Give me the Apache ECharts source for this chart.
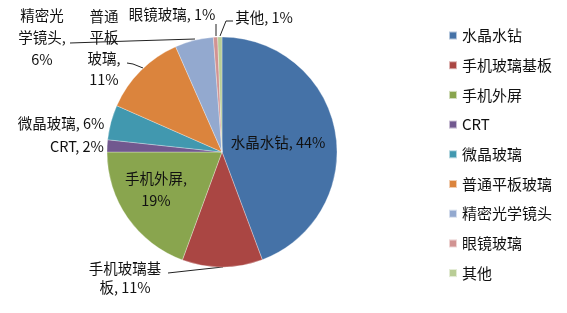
<!DOCTYPE html>
<html><head><meta charset="utf-8">
<script src="https://cdn.jsdelivr.net/npm/echarts@6/dist/echarts.min.js"></script>
<style>html,body{margin:0;padding:0;background:#fff}#c{width:567px;height:313px}</style>
</head><body><div id="c"></div>
<script>
const categories = ['水晶水钻','手机玻璃基板','手机外屏','CRT','微晶玻璃','普通平板玻璃','精密光学镜头','眼镜玻璃','其他'];
// slice shares estimated from the drawn angles
const shares = [44.3, 11.3, 19.4, 1.7, 4.9, 11.8, 5.4, 0.6, 0.6];
// percentages printed on the labels
const percentLabels = [44, 11, 19, 2, 6, 11, 6, 1, 1];
const labelTexts = ['水晶水钻, 44%','手机玻璃基\n板, 11%','手机外屏,\n19%','CRT, 2%','微晶玻璃, 6%','普通\n平板\n玻璃,\n11%','精密光\n学镜头,\n6%','眼镜玻璃, 1%','其他, 1%'];
const colors = ['#4572A7','#AA4643','#89A54E','#71588F','#4198AF','#DB843D','#93A9CF','#D19392','#B9CD96'];

const labelPlace = [
  {x:278, y:142},
  {x:125, y:278, lh:19, line:[[168,273],[195,270],[223,267]]},
  {x:156, y:189},
  {x:77, y:146},
  {x:61, y:123},
  {x:104, y:48, lh:21, line:[[127,63],[133,64],[143,68]]},
  {x:42, y:37, lh:22, line:[[70,43],[130,41],[195,39]]},
  {x:172, y:14, line:[[216,24],[216,30],[216,36]]},
  {x:264, y:17, line:[[233,21],[226,21],[220,36]]}
];

const chart = echarts.init(document.getElementById('c'), null, {renderer:'canvas'});
const data = categories.map((n,i)=>({
  name:n, value:shares[i],
  itemStyle:{color:colors[i]},
  label:{formatter:labelTexts[i], lineHeight: labelPlace[i].lh || 22},
  labelLine:{show: !!labelPlace[i].line}
}));
chart.setOption({
  animation:false,
  legend:{
    orient:'vertical', left:443, top:23,
    itemWidth:8, itemHeight:8, itemGap:14.7, icon:'rect',
    textStyle:{fontSize:15, color:'#111', fontFamily:'Noto Sans CJK SC', lineHeight:14},
    data:categories
  },
  series:[{
    type:'pie', center:[222,152], radius:115, startAngle:90, clockwise:true,
    avoidLabelOverlap:false,
    itemStyle:{borderColor:'rgba(255,255,255,0.6)', borderWidth:0.5},
    label:{show:true, position:'outside', color:'#111', fontSize:14.5, fontFamily:'Noto Sans CJK SC', align:'center'},
    labelLine:{lineStyle:{color:'#222', width:1}},
    labelLayout:function(p){
      const L = labelPlace[p.dataIndex];
      const r = {x:L.x, y:L.y, align:'center', verticalAlign:'middle'};
      if (L.line) r.labelLinePoints = L.line;
      return r;
    },
    data:data
  }]
});
</script></body></html>
